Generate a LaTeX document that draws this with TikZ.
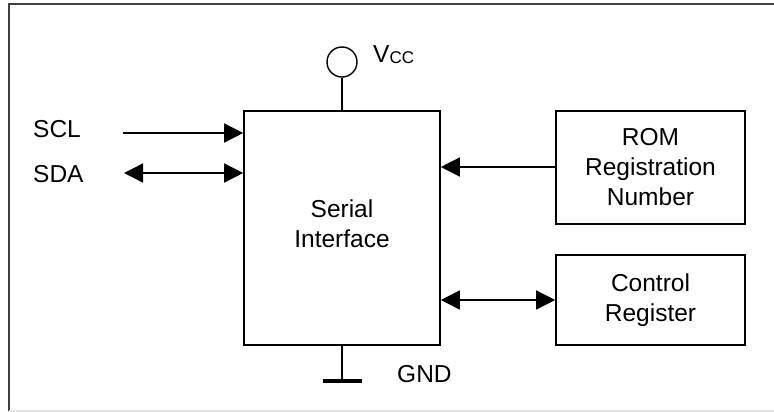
\documentclass[tikz,border=0pt]{standalone}
\usepackage{fontspec}
\setmainfont{Liberation Sans}
\usetikzlibrary{arrows.meta}
\tikzset{bigtip/.tip={Triangle[length=19pt,width=19pt]}}
\begin{document}
\begin{tikzpicture}[x=1pt,y=-1pt,
  lbl/.style={font=\fontsize{24.5}{30}\selectfont, inner sep=0pt},
  blk/.style={draw, line width=1.6pt, inner sep=0pt, align=center, font=\fontsize{24.5}{30}\selectfont},
  conn/.style={line width=1.4pt}
]
\useasboundingbox (0,0) rectangle (774,412);
% frame
\draw[line width=2pt, black!75] (9,411) -- (9,4) -- (776,4);
\draw[line width=1.5pt, black!10] (9,411) -- (776,411);

% blocks
\node[blk, minimum width=196pt, minimum height=234pt] (si) at (342,228) {};
\node[lbl, align=center] (sitext) at (342,224) {Serial\\Interface};
\node[blk, minimum width=189pt, minimum height=113pt] (rom) at (650.5,167.5) {ROM\\Registration\\Number};
\node[blk, minimum width=189pt, minimum height=90pt] (ctl) at (650.5,300) {Control\\Register};

% Vcc
\node[draw, circle, line width=1.4pt, minimum size=30pt, inner sep=0pt] (vcc) at (342,62) {};
\node[lbl, anchor=base west] (vcclbl) at (373,63) {V\raisebox{-1pt}{\fontsize{17}{20}\selectfont CC}};
\draw[conn] (vcc.south) -- (si.north);

% GND
\coordinate (gnd) at (342,381);
\draw[conn] (si.south) -- (gnd);
\draw[line width=4pt] ([xshift=-19.5pt]gnd) -- ([xshift=19.5pt]gnd);
\node[lbl, anchor=base west] (gndlbl) at (397,382) {GND};

% SCL / SDA
\node[lbl, anchor=base west] (scl) at (33,137) {SCL};
\node[lbl, anchor=base west] (sda) at (33,182) {SDA};
\coordinate (sclstart) at (123,133);
\coordinate (sdastart) at (124,173);
\draw[conn, -{bigtip}] (sclstart) -- (sclstart -| si.west);
\draw[conn, {bigtip}-{bigtip}] (sdastart) -- (sdastart -| si.west);

% ROM -> SI, SI <-> Control
\draw[conn, -{bigtip}] (rom.west |- 0,167) -- (si.east |- 0,167);
\draw[conn, {bigtip}-{bigtip}] (si.east |- ctl.west) -- (ctl.west);
\end{tikzpicture}
\end{document}
